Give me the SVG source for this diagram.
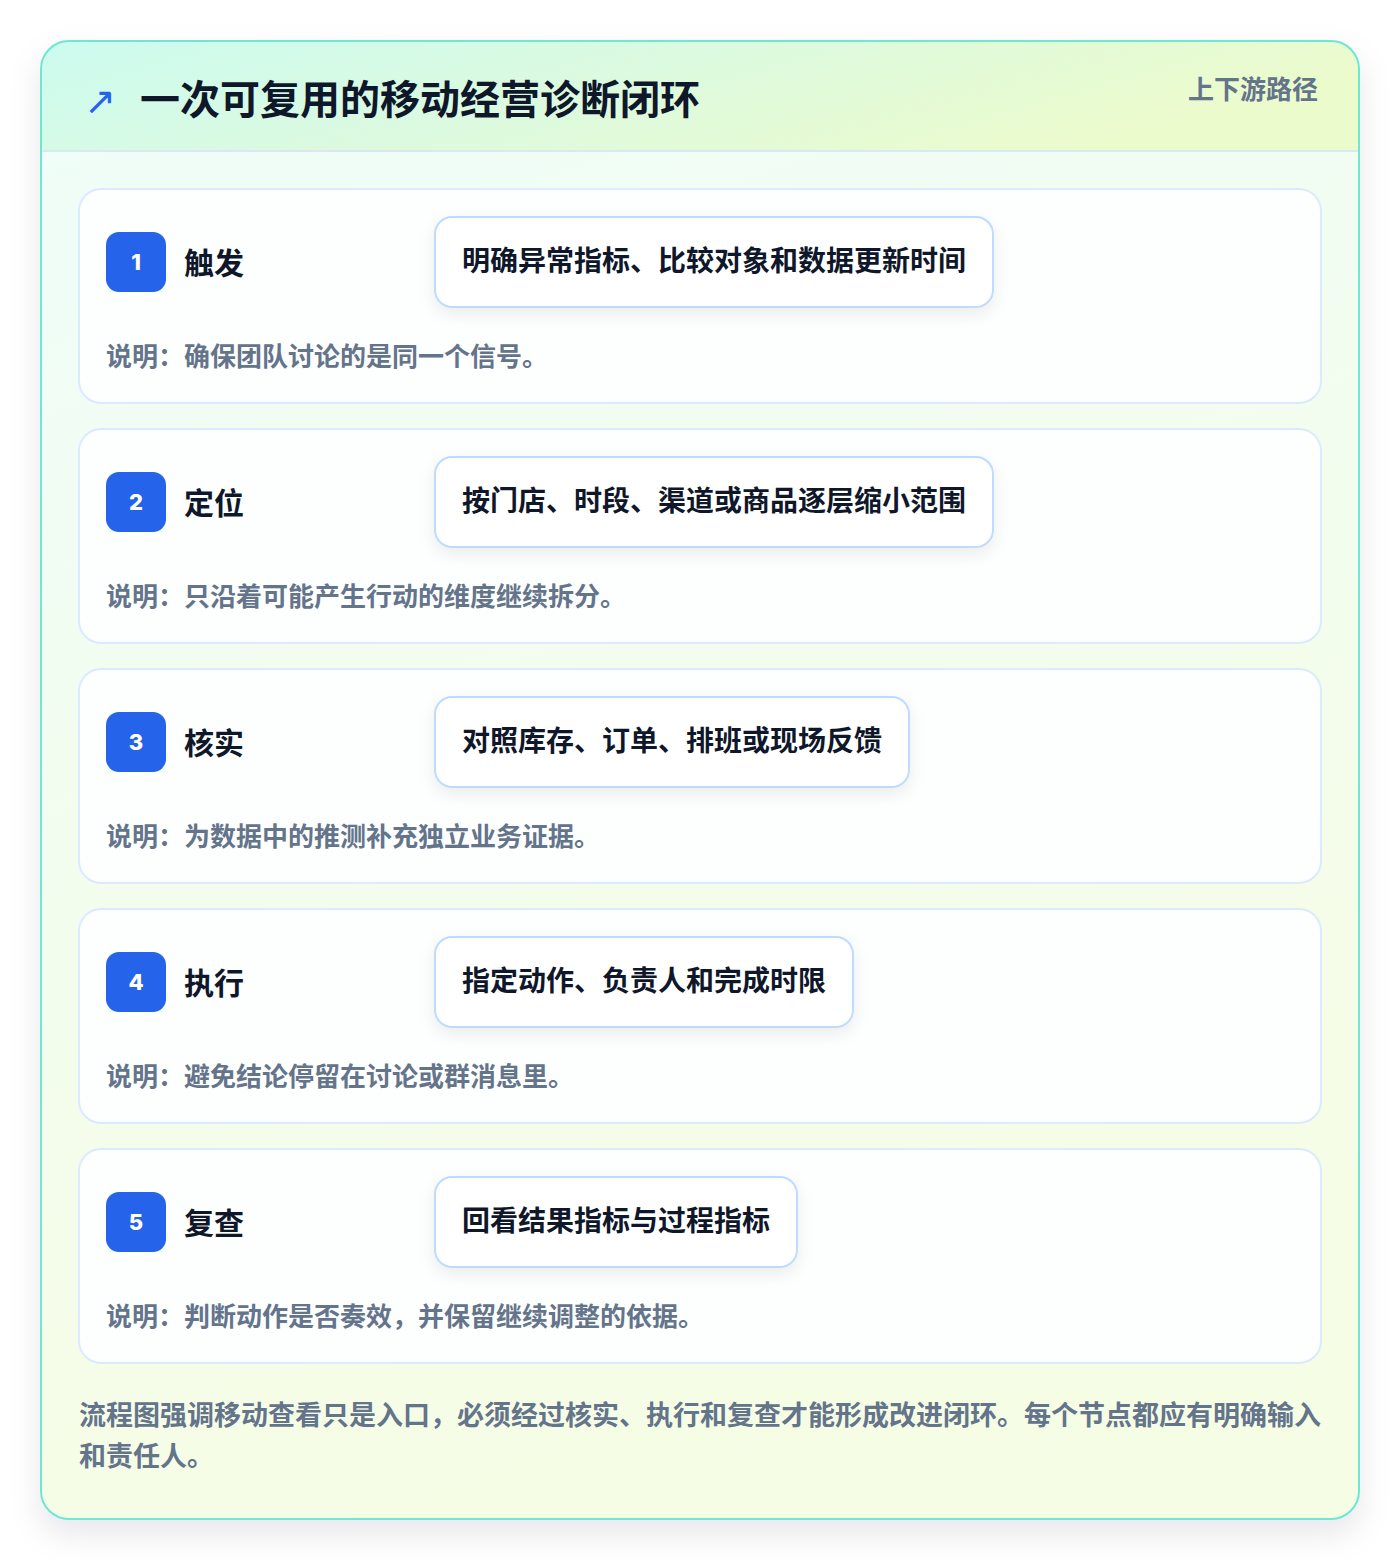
<svg xmlns="http://www.w3.org/2000/svg" width="1400" height="1560" viewBox="0 0 1400 1560">
<defs>
<linearGradient id="hdr" x1="0" y1="0" x2="1" y2="0.3">
<stop offset="0" stop-color="#ccfbef"/>
<stop offset="0.5" stop-color="#dcfadf"/>
<stop offset="1" stop-color="#ecfbcc"/>
</linearGradient>
<linearGradient id="body" x1="0" y1="0" x2="0.3" y2="1">
<stop offset="0" stop-color="#effdf9"/>
<stop offset="1" stop-color="#f6fde5"/>
</linearGradient>
<filter id="outerShadow" x="-10%" y="-10%" width="120%" height="120%">
<feDropShadow dx="0" dy="14" stdDeviation="16" flood-color="#0f172a" flood-opacity="0.10"/>
</filter>
<filter id="boxShadow" x="-10%" y="-30%" width="120%" height="160%">
<feDropShadow dx="0" dy="6" stdDeviation="8" flood-color="#0f172a" flood-opacity="0.07"/>
</filter>
<clipPath id="cardClip"><rect x="41" y="41" width="1318" height="1478" rx="28"/></clipPath>
<style>
.step{fill:#fdfefe;stroke:#dbeafe;stroke-width:2}
.badge{fill:#2563eb}
.num{font-family:"Inter","Liberation Sans",sans-serif;font-weight:800;font-size:22px;fill:#ffffff;text-anchor:middle}
.lbl{font-family:"Noto Sans CJK SC","Noto Sans",sans-serif;font-weight:700;font-size:30px;fill:#0f172a}
.box{fill:#ffffff;stroke:#bfdbfe;stroke-width:2}
.boxt{font-family:"Noto Sans CJK SC","Noto Sans",sans-serif;font-weight:700;font-size:28px;fill:#0f172a}
.note{font-family:"Noto Sans CJK SC","Noto Sans",sans-serif;font-weight:700;font-size:26px;fill:#64748b}
.foot{font-family:"Noto Sans CJK SC","Noto Sans",sans-serif;font-weight:700;font-size:27px;fill:#64748b}
</style>
</defs>
<rect width="1400" height="1560" fill="#ffffff"/>
<g id="frame">
<rect x="41" y="41" width="1318" height="1478" rx="28" fill="url(#body)" filter="url(#outerShadow)"/>
<g clip-path="url(#cardClip)">
<rect x="41" y="41" width="1318" height="110" fill="url(#hdr)"/>
<line x1="41" y1="151" x2="1359" y2="151" stroke="#d6e9f5" stroke-width="2"/>
</g>
<rect x="41" y="41" width="1318" height="1478" rx="28" fill="none" stroke="#6ee7d4" stroke-width="2"/>
</g>
<g id="header">
<text x="84" y="114" font-family="'DejaVu Sans',sans-serif" font-size="38" fill="#2563eb">↗</text>
<text x="140" y="114" font-family="'Noto Sans CJK SC','Noto Sans',sans-serif" font-weight="700" font-size="40" fill="#0f172a">一次可复用的移动经营诊断闭环</text>
<text x="1318" y="99" text-anchor="end" font-family="'Noto Sans CJK SC','Noto Sans',sans-serif" font-weight="700" font-size="26" fill="#64748b">上下游路径</text>
</g>
<g id="step1">
<rect class="step" x="79" y="189" width="1242" height="214" rx="22"/>
<rect class="badge" x="106" y="232" width="60" height="60" rx="13"/>
<text class="num" x="136" y="270">1</text>
<text class="lbl" x="184" y="274">触发</text>
<rect class="box" x="435" y="217" width="558" height="90" rx="17" filter="url(#boxShadow)"/>
<text class="boxt" x="462" y="271">明确异常指标、比较对象和数据更新时间</text>
<text class="note" x="106" y="366">说明：确保团队讨论的是同一个信号。</text>
</g>
<g id="step2">
<rect class="step" x="79" y="429" width="1242" height="214" rx="22"/>
<rect class="badge" x="106" y="472" width="60" height="60" rx="13"/>
<text class="num" x="136" y="510">2</text>
<text class="lbl" x="184" y="514">定位</text>
<rect class="box" x="435" y="457" width="558" height="90" rx="17" filter="url(#boxShadow)"/>
<text class="boxt" x="462" y="511">按门店、时段、渠道或商品逐层缩小范围</text>
<text class="note" x="106" y="606">说明：只沿着可能产生行动的维度继续拆分。</text>
</g>
<g id="step3">
<rect class="step" x="79" y="669" width="1242" height="214" rx="22"/>
<rect class="badge" x="106" y="712" width="60" height="60" rx="13"/>
<text class="num" x="136" y="750">3</text>
<text class="lbl" x="184" y="754">核实</text>
<rect class="box" x="435" y="697" width="474" height="90" rx="17" filter="url(#boxShadow)"/>
<text class="boxt" x="462" y="751">对照库存、订单、排班或现场反馈</text>
<text class="note" x="106" y="846">说明：为数据中的推测补充独立业务证据。</text>
</g>
<g id="step4">
<rect class="step" x="79" y="909" width="1242" height="214" rx="22"/>
<rect class="badge" x="106" y="952" width="60" height="60" rx="13"/>
<text class="num" x="136" y="990">4</text>
<text class="lbl" x="184" y="994">执行</text>
<rect class="box" x="435" y="937" width="418" height="90" rx="17" filter="url(#boxShadow)"/>
<text class="boxt" x="462" y="991">指定动作、负责人和完成时限</text>
<text class="note" x="106" y="1086">说明：避免结论停留在讨论或群消息里。</text>
</g>
<g id="step5">
<rect class="step" x="79" y="1149" width="1242" height="214" rx="22"/>
<rect class="badge" x="106" y="1192" width="60" height="60" rx="13"/>
<text class="num" x="136" y="1230">5</text>
<text class="lbl" x="184" y="1234">复查</text>
<rect class="box" x="435" y="1177" width="362" height="90" rx="17" filter="url(#boxShadow)"/>
<text class="boxt" x="462" y="1231">回看结果指标与过程指标</text>
<text class="note" x="106" y="1326">说明：判断动作是否奏效，并保留继续调整的依据。</text>
</g>
<g id="connectors"></g>
<g id="footer">
<text class="foot" x="79" y="1425">流程图强调移动查看只是入口，必须经过核实、执行和复查才能形成改进闭环。每个节点都应有明确输入</text>
<text class="foot" x="79" y="1466">和责任人。</text>
</g>
</svg>
